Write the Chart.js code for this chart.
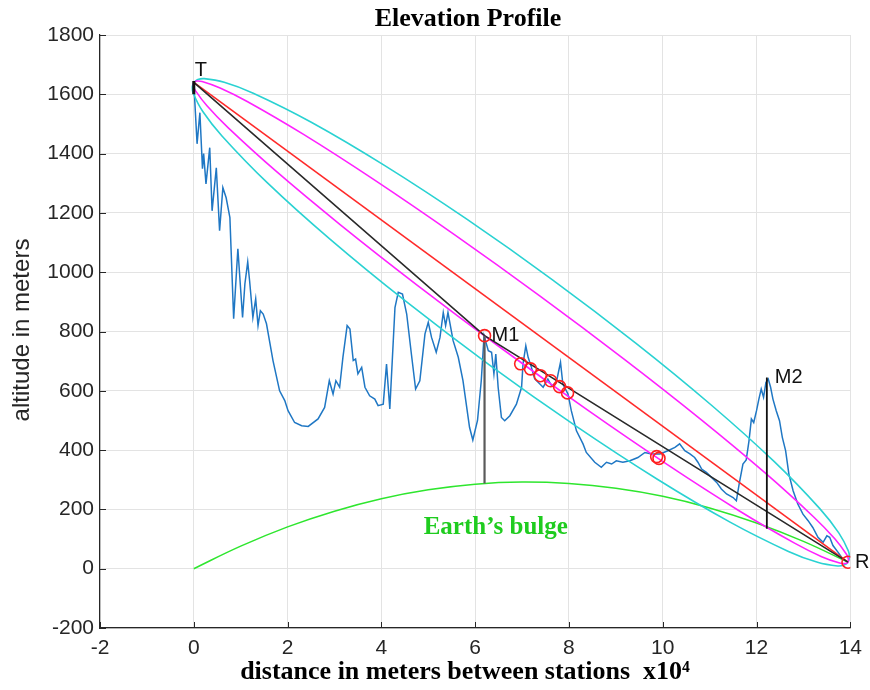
<!DOCTYPE html>
<html>
<head>
<meta charset="utf-8">
<title>Elevation Profile</title>
<script src="https://cdn.jsdelivr.net/npm/chart.js@4.4.1/dist/chart.umd.min.js"></script>
<style>
  html, body { margin: 0; padding: 0; background: #ffffff; }
  #wrap { width: 870px; height: 690px; }
</style>
</head>
<body>
<div id="wrap"><canvas id="profile" width="870" height="690"></canvas></div>
<script>
// Terrain along the path: distance (x10^4 m) and altitude (m)
const terrainDist = [
  0, 0.07, 0.13, 0.185, 0.21, 0.26, 0.34, 0.39, 0.48, 0.55, 0.62, 0.69, 0.77, 0.85, 0.94,
  1.04, 1.09, 1.15, 1.19, 1.26, 1.32, 1.37, 1.42, 1.48, 1.55, 1.69, 1.83, 1.94, 2.01, 2.15,
  2.3, 2.44, 2.65, 2.79, 2.89, 2.97, 3.03, 3.11, 3.18, 3.27, 3.33, 3.40, 3.45, 3.50, 3.58,
  3.65, 3.75, 3.86, 3.93, 4.04, 4.11, 4.18, 4.29, 4.36, 4.45, 4.54, 4.64, 4.73, 4.82, 4.93,
  5.00, 5.07, 5.17, 5.25, 5.32, 5.37, 5.42, 5.53, 5.64, 5.74, 5.88, 5.95, 6.05, 6.13, 6.19,
  6.28, 6.35, 6.40, 6.44, 6.49, 6.56, 6.63, 6.74, 6.88, 6.99, 7.02, 7.08, 7.13, 7.20, 7.27,
  7.38, 7.45, 7.55, 7.63, 7.73, 7.82, 7.87, 7.98, 8.05, 8.16, 8.30, 8.37, 8.55, 8.69, 8.80,
  8.91, 9.01, 9.15, 9.30, 9.47, 9.62, 9.76, 9.94, 10.11, 10.26, 10.36, 10.47, 10.58, 10.68, 10.75,
  10.83, 10.93, 11.04, 11.15, 11.25, 11.36, 11.50, 11.57, 11.63, 11.71, 11.78, 11.84, 11.89, 11.94, 12.00,
  12.05, 12.10, 12.15, 12.20, 12.25, 12.30, 12.35, 12.42, 12.49, 12.55, 12.62, 12.69, 12.78, 12.88, 12.99,
  13.10, 13.20, 13.31, 13.42, 13.50, 13.56, 13.63, 13.74, 13.84, 13.95
];
const terrainElev = [
  1640, 1433, 1538, 1349, 1400, 1298, 1420, 1207, 1352, 1140, 1285, 1251, 1184, 843, 1079,
  847, 961, 1035, 971, 847, 910, 820, 870, 859, 826, 701, 600, 567, 533, 493,
  482, 480, 505, 544, 634, 589, 634, 612, 713, 820, 808, 702, 707, 657, 679,
  612, 583, 572, 550, 555, 690, 539, 881, 932, 926, 859, 724, 606, 634, 792,
  831, 780, 730, 780, 864, 820, 864, 769, 713, 634, 477, 434, 500, 634, 786,
  735, 730, 657, 724, 612, 510, 499, 516, 555, 612, 690, 752, 713, 679, 640,
  623, 612, 640, 617, 628, 696, 623, 589, 533, 465, 421, 392, 359, 342, 359,
  353, 364, 359, 364, 375, 392, 387, 387, 398, 409, 421, 398, 387, 375, 359,
  336, 325, 308, 291, 269, 252, 240, 229, 286, 353, 367, 432, 505, 493, 533,
  572, 606, 578, 628, 640, 612, 572, 533, 499, 443, 398, 319, 263, 218, 184,
  162, 139, 106, 89, 111, 106, 78, 55, 33, 22
];

// Direct line of sight between stations T and R
const losDist = [0, 13.95];
const losElev = [1640, 22];

// Path over the obstruction M1
const pathDist = [0, 6.2, 13.95];
const pathElev = [1640, 786, 22];

// Earth's bulge
const bulgeDist = [0, 1, 2, 3, 4, 5, 6, 7, 8, 9, 10, 11, 12, 13, 13.95];
const bulgeElev = [0, 76, 141, 194, 236, 266, 285, 292, 287, 271, 244, 205, 154, 92, 22];

// First Fresnel zone outline (T -> R along the top, back along the bottom)
const zone1Dist = [
  0, 0.062, 0.177, 0.561, 1.139, 2.332, 3.842, 5.565, 7.384, 9.175, 10.817, 12.196, 13.219, 13.669, 13.914, 13.959, 13.95,
  13.888, 13.773, 13.389, 12.811, 11.618, 10.108, 8.385, 6.566, 4.775, 3.133, 1.754, 0.730, 0.281, 0.035, -0.009, 0
];
const zone1Elev = [
  1640, 1644.8, 1643.2, 1621.5, 1575.9, 1465.6, 1312.1, 1125.8, 919.4, 707.0, 503.0, 321.4, 174.5, 100.9, 49.6, 32.7, 22,
  17.3, 18.9, 40.5, 86.2, 196.4, 349.9, 536.2, 742.6, 955.0, 1159.0, 1340.6, 1487.5, 1561.1, 1612.5, 1629.4, 1640
];

// Outer Fresnel zone outline
const zone2Dist = [
  0, 0.085, 0.222, 0.649, 1.268, 2.515, 4.065, 5.814, 7.642, 9.424, 11.040, 12.379, 13.349, 13.757, 13.96, 13.98, 13.95,
  13.865, 13.728, 13.301, 12.681, 11.435, 9.885, 8.135, 6.308, 4.525, 2.910, 1.571, 0.601, 0.192, -0.010, -0.032, 0
];
const zone2Elev = [
  1640, 1649.6, 1652.8, 1640.6, 1603.8, 1505.1, 1360.4, 1179.7, 975.2, 760.9, 551.3, 360.9, 202.5, 120.0, 59.3, 37.6, 22,
  12.4, 9.2, 21.4, 58.2, 157.0, 301.6, 482.4, 686.8, 901.2, 1110.7, 1301.2, 1459.6, 1542.0, 1602.8, 1624.5, 1640
];

// Points where the terrain reaches the zones
const hitDist = [6.2, 6.97, 7.18, 7.39, 7.61, 7.80, 7.97, 9.87, 9.92, 13.95];
const hitElev = [786, 691, 674, 651, 634, 614, 593, 378, 372, 22];

// Mast lines: from the bulge up to the obstruction tops, and the antenna at T
const mast1Dist = [6.2, 6.2];   const mast1Elev = [287, 786];
const mast2Dist = [12.22, 12.22]; const mast2Elev = [135, 645];
const mastTDist = [0, 0];       const mastTElev = [1600, 1645];

// Text annotations: anchor (distance, altitude) with a pixel offset
const noteText = ['T', 'M1', 'M2', 'R'];
const noteDist = [0, 6.2, 12.22, 13.95];
const noteElev = [1680, 786, 645, 22];

const xTicks = [-2, 0, 2, 4, 6, 8, 10, 12, 14];
const yTicks = [-200, 0, 200, 400, 600, 800, 1000, 1200, 1400, 1600, 1800];

const pts = (xs, ys) => xs.map((v, i) => ({ x: v, y: ys[i] }));

const SANS = '"Liberation Sans", Arial, sans-serif';
const SERIF = '"Liberation Serif", "Times New Roman", serif';
const INK = '#262626';

const line = (data, color, width, order, extra) => Object.assign({
  data, borderColor: color, borderWidth: width, showLine: true, fill: false,
  pointRadius: 0, pointHoverRadius: 0, tension: 0, order
}, extra || {});

const overlay = {
  id: 'overlay',
  afterDraw(chart) {
    const { ctx, chartArea: a, scales: { x, y } } = chart;
    ctx.save();
    // inward tick marks on the left and bottom axes
    ctx.strokeStyle = INK;
    ctx.lineWidth = 1;
    xTicks.forEach(v => {
      const px = Math.round(x.getPixelForValue(v)) + 0.5;
      ctx.beginPath(); ctx.moveTo(px, a.bottom); ctx.lineTo(px, a.bottom - 6); ctx.stroke();
    });
    yTicks.forEach(v => {
      const py = Math.round(y.getPixelForValue(v)) + 0.5;
      ctx.beginPath(); ctx.moveTo(a.left, py); ctx.lineTo(a.left + 6, py); ctx.stroke();
    });

    // station / obstruction labels
    ctx.fillStyle = '#111111';
    ctx.font = '20px ' + SANS;
    ctx.textBaseline = 'middle';
    ctx.textAlign = 'left';
    noteText.forEach((t, i) => {
      const px = x.getPixelForValue(noteDist[i]);
      const py = y.getPixelForValue(noteElev[i]);
      const dx = t === 'T' ? 1 : (t === 'M2' ? 8 : 7);
      ctx.fillText(t, px + dx, py);
    });

    // Earth's bulge caption
    ctx.fillStyle = '#1fcc1f';
    ctx.font = 'bold 25px ' + SERIF;
    ctx.textAlign = 'center';
    ctx.fillText('Earth\u2019s bulge', x.getPixelForValue(6.44), y.getPixelForValue(139));

    // chart title
    ctx.fillStyle = '#000000';
    ctx.font = 'bold 26px ' + SERIF;
    ctx.fillText('Elevation Profile', 468, 19);

    // x axis title
    ctx.fillText('distance in meters between stations  x10\u2074', 465, 672);

    // y axis title
    ctx.fillStyle = INK;
    ctx.font = '24px ' + SANS;
    ctx.translate(22, 330);
    ctx.rotate(-Math.PI / 2);
    ctx.fillText('altitude in meters', 0, 0);
    ctx.restore();
  }
};

new Chart(document.getElementById('profile'), {
  type: 'scatter',
  data: {
    datasets: [
      line(pts(terrainDist, terrainElev), '#1f77c4', 1.5, 9),
      line(pts(bulgeDist, bulgeElev), '#2ee62e', 1.5, 8, { tension: 0.4 }),
      line(pts(zone2Dist, zone2Elev), '#2ad2d2', 1.6, 7, { tension: 0.35 }),
      line(pts(zone1Dist, zone1Elev), '#ff22ff', 1.6, 6, { tension: 0.35 }),
      line(pts(losDist, losElev), '#ff2a2a', 1.6, 5),
      line(pts(pathDist, pathElev), '#2a2a2a', 1.6, 4),
      line(pts(mast1Dist, mast1Elev), '#5a5a5a', 2.2, 3),
      line(pts(mast2Dist, mast2Elev), '#111111', 1.8, 3),
      line(pts(mastTDist, mastTElev), '#111111', 3, 3),
      {
        data: pts(hitDist, hitElev), showLine: false, order: 1,
        pointStyle: 'circle', pointRadius: 6, pointBorderWidth: 1.6,
        pointBorderColor: '#ff2020', pointBackgroundColor: 'rgba(0,0,0,0)',
        pointHoverRadius: 6
      }
    ]
  },
  options: {
    responsive: false,
    animation: false,
    devicePixelRatio: 1,
    layout: { padding: { left: 0, top: 35, right: 19, bottom: 0 } },
    plugins: { legend: { display: false }, tooltip: { enabled: false }, title: { display: false } },
    events: [],
    scales: {
      x: {
        type: 'linear', min: -2, max: 14,
        afterBuildTicks: s => { s.ticks = xTicks.map(v => ({ value: v })); },
        afterFit: s => { s.height = 62; },
        grid: { color: '#e3e3e3', lineWidth: 1, drawTicks: false },
        border: { display: true, color: INK, width: 1.2 },
        ticks: { color: INK, font: { family: SANS, size: 21 }, padding: 8, maxRotation: 0,
                 callback: v => String(v) }
      },
      y: {
        type: 'linear', min: -200, max: 1800,
        afterBuildTicks: s => { s.ticks = yTicks.map(v => ({ value: v })); },
        afterFit: s => { s.width = 100; },
        grid: { color: '#e3e3e3', lineWidth: 1, drawTicks: false },
        border: { display: true, color: INK, width: 1.2 },
        ticks: { color: INK, font: { family: SANS, size: 21 }, padding: 6,
                 callback: v => String(v) }
      }
    }
  },
  plugins: [overlay]
});
</script>
</body>
</html>
